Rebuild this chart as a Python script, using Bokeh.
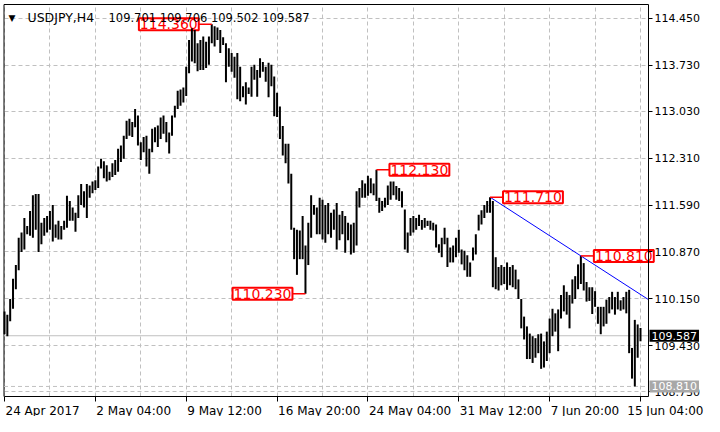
from bokeh.plotting import figure
from bokeh.models import FixedTicker, Label, PrintfTickFormatter
from bokeh.embed import file_html
from bokeh.resources import INLINE

symbol = "USDJPY,H4"

highs = [
    109.96, 109.91, 110.15, 110.46, 110.67, 111.09, 111.17, 111.39, 111.27, 111.50,
    111.74, 111.76, 111.76, 111.32, 111.39, 111.42, 111.50, 111.59, 111.29, 111.35,
    111.27, 111.35, 111.73, 111.65, 111.55, 111.47, 111.74, 111.91, 111.80, 111.91,
    111.89, 111.95, 111.97, 112.18, 112.30, 112.26, 112.20, 112.10, 112.23, 112.28,
    112.45, 112.50, 112.65, 112.88, 112.91, 112.86, 113.06, 112.96, 112.55, 112.63,
    112.65, 112.45, 112.76, 112.78, 112.81, 112.93, 112.96, 112.86, 112.70, 112.96,
    113.11, 113.34, 113.36, 113.39, 113.71, 114.12, 114.30, 114.27, 114.07, 114.12,
    114.17, 114.09, 114.17, 114.36, 114.33, 114.31, 114.27, 114.16, 114.07, 113.99,
    113.92, 113.86, 113.92, 113.71, 113.41, 113.47, 113.39, 113.71, 113.74, 113.66,
    113.84, 113.78, 113.71, 113.77, 113.74, 113.56, 113.31, 113.10, 112.80, 112.53,
    112.53, 112.07, 111.24, 111.21, 111.20, 111.42, 110.97, 111.32, 111.74, 111.59,
    111.55, 111.70, 111.67, 111.59, 111.62, 111.47, 111.52, 111.62, 111.44, 111.50,
    111.42, 111.32, 111.29, 111.32, 111.80, 111.85, 111.97, 111.92, 112.04, 112.00,
    111.92, 112.13, 111.70, 111.65, 111.70, 111.89, 111.95, 111.95, 111.88, 111.85,
    111.80, 111.52, 111.17, 111.39, 111.42, 111.39, 111.44, 111.36, 111.39, 111.35,
    111.35, 111.32, 111.29, 110.99, 111.09, 111.24, 111.09, 110.94, 110.97, 111.09,
    111.21, 110.91, 110.89, 110.82, 110.71, 110.94, 111.14, 111.44, 111.51, 111.59,
    111.65, 111.71, 111.65, 110.79, 110.64, 110.67, 110.64, 110.71, 110.64, 110.67,
    110.60, 110.45, 110.15, 109.88, 109.73, 109.62, 109.58, 109.55, 109.61, 109.62,
    109.50, 109.65, 109.85, 110.00, 109.93, 109.99, 110.21, 110.36, 110.26, 110.21,
    110.45, 110.50, 110.68, 110.81, 110.70, 110.41, 110.33, 110.33, 110.27, 110.03,
    110.03, 110.03, 110.14, 110.18, 110.26, 110.18, 110.26, 110.13, 110.18, 110.26,
    110.29, 109.40, 109.83, 109.76, 109.706,
]

lows = [
    109.61, 109.58, 109.81, 110.00, 110.30, 110.59, 110.87, 110.91, 111.14, 111.12,
    111.09, 111.21, 110.87, 110.99, 111.12, 111.17, 111.21, 111.03, 111.09, 111.06,
    111.06, 111.21, 111.24, 111.35, 111.35, 111.18, 111.39, 111.59, 111.55, 111.39,
    111.70, 111.77, 111.82, 111.85, 112.15, 112.00, 111.95, 111.97, 112.02, 112.05,
    112.10, 112.25, 112.30, 112.60, 112.65, 112.63, 112.78, 112.50, 112.28, 112.40,
    112.18, 112.07, 112.40, 112.55, 112.48, 112.60, 112.68, 112.55, 112.38, 112.65,
    112.93, 113.06, 113.11, 113.16, 113.26, 113.61, 113.79, 113.76, 113.64, 113.66,
    113.66, 113.69, 113.74, 114.07, 114.02, 114.12, 113.92, 114.04, 113.47, 113.71,
    113.63, 113.54, 113.21, 113.18, 113.24, 113.13, 113.29, 113.25, 113.51, 113.25,
    113.54, 113.63, 113.48, 113.24, 113.41, 112.95, 112.94, 112.60, 112.35, 112.23,
    111.92, 111.21, 110.76, 110.52, 110.76, 110.76, 110.23, 110.67, 111.09, 111.44,
    111.14, 111.14, 111.06, 111.01, 111.14, 111.09, 111.21, 110.91, 111.05, 111.14,
    110.86, 111.05, 110.83, 110.86, 110.97, 111.55, 111.70, 111.70, 111.73, 111.77,
    111.74, 111.65, 111.47, 111.50, 111.55, 111.59, 111.67, 111.74, 111.67, 111.65,
    111.55, 110.91, 110.86, 111.12, 111.17, 111.21, 111.27, 111.21, 111.24, 111.27,
    111.21, 111.20, 110.94, 110.86, 110.79, 110.99, 110.64, 110.71, 110.71, 110.79,
    110.86, 110.68, 110.59, 110.49, 110.49, 110.74, 110.83, 111.20, 111.29, 111.39,
    111.47, 111.47, 110.33, 110.30, 110.28, 110.36, 110.38, 110.29, 110.36, 110.33,
    110.30, 110.15, 109.70, 109.53, 109.23, 109.23, 109.17, 109.25, 109.32, 109.08,
    109.10, 109.20, 109.32, 109.58, 109.65, 109.35, 109.85, 109.96, 109.91, 109.70,
    110.08, 110.15, 110.30, 110.38, 110.28, 110.11, 110.12, 109.92, 110.03, 109.77,
    109.61, 109.73, 109.77, 109.93, 109.99, 109.91, 109.99, 109.97, 109.99, 109.93,
    109.32, 108.93, 108.81, 109.25, 109.502,
]

last_open = 109.701
last_close = 109.587

y_ticks = [108.73, 109.43, 110.15, 110.87, 111.59, 112.31, 113.03, 113.73, 114.45]
x_tick_bars = [0, 32, 64, 96, 128, 160, 192, 224]
x_tick_labels = ["24 Apr 2017", "2 May 04:00", "9 May 12:00", "16 May 20:00",
                 "24 May 04:00", "31 May 12:00", "7 Jun 20:00", "15 Jun 04:00"]
grid_bars = list(range(0, 225, 16))

# marked extremes: (bar index, "high"/"low", side of the box)
marks = [(73, "high", "left"), (106, "low", "left"), (131, "high", "right"),
         (171, "high", "right"), (203, "high", "right")]
trend_bars = [171, 203]

# ---------------- layout (canvas pixels) ----------------
CW, CH = 704, 416
FRAME_L, FRAME_R, FRAME_T, FRAME_B = 3.5, 648.0, 4.0, 396.0
PRICE_TOP, PRICE_BOT = 114.662, 108.656
BAR0_PX, BARN_PX = 4.0, 640.0

n = len(highs)
pxb = (BARN_PX - BAR0_PX) / (n - 1)
ppu = (FRAME_B - FRAME_T) / (PRICE_TOP - PRICE_BOT)
X0, X1 = -BAR0_PX / pxb, (CW - BAR0_PX) / pxb
Y0, Y1 = PRICE_BOT - (CH - FRAME_B) / ppu, PRICE_TOP + FRAME_T / ppu
XL = (FRAME_L - BAR0_PX) / pxb      # left border of chart frame
XA = (FRAME_R - BAR0_PX) / pxb      # price axis position
YT, YB = PRICE_TOP, PRICE_BOT       # top border / time axis position

FONT = "DejaVu Sans"
GRID = "#c0c0c0"

p = figure(width=CW, height=CH, x_range=(X0, X1), y_range=(Y0, Y1),
           y_axis_location="right", output_backend="svg", toolbar_location=None,
           min_border=0, min_border_left=0, min_border_right=0, min_border_top=0,
           min_border_bottom=0, background_fill_color="white", border_fill_color="white")
p.outline_line_color = None

xa = p.xaxis[0]
xa.fixed_location = YB
xa.bounds = (XL, XA)
xa.ticker = FixedTicker(ticks=x_tick_bars)
xa.major_label_overrides = {b: "" for b in x_tick_bars}
xa.major_label_text_font_size = "0px"
xa.major_tick_out = 5
xa.major_tick_in = 0
xa.minor_tick_out = 0
xa.minor_tick_in = 0
xa.axis_line_color = "black"
xa.major_tick_line_color = "black"

ya = p.yaxis[0]
ya.fixed_location = XA
ya.bounds = (YB, YT)
ya.ticker = FixedTicker(ticks=y_ticks)
ya.formatter = PrintfTickFormatter(format="%.3f")
ya.major_tick_out = 4
ya.major_tick_in = 0
ya.minor_tick_out = 0
ya.minor_tick_in = 0
ya.major_label_standoff = 2
ya.major_label_text_font = FONT
ya.major_label_text_font_size = "11px"
ya.major_label_text_color = "black"
ya.axis_line_color = "black"
ya.major_tick_line_color = "black"

p.xgrid.ticker = FixedTicker(ticks=grid_bars)
for g, cb in ((p.xgrid[0], (YB, YT)), (p.ygrid[0], (XL, XA))):
    g.grid_line_color = GRID
    g.grid_line_dash = "4 3"
    g.grid_line_width = 1
    g.cross_bounds = cb

# frame borders (left and top); right/bottom are the axes
p.line(x=[XL, XL], y=[YB, YT], line_color="black", line_width=1)
p.line(x=[XL, XA], y=[YT, YT], line_color="black", line_width=1)

# bid line and marked low line
p.line(x=[XL, XA], y=[last_close, last_close], line_color=GRID, line_width=1)
p.line(x=[XL, XA], y=[min(lows), min(lows)], line_color=GRID, line_width=1, line_dash="4 3")

idx = list(range(n))
p.segment(x0=idx, y0=lows, x1=idx, y1=highs, line_color="black", line_width=2)

# trend line through two highs, extended to the price axis
a, b = trend_bars
slope = (highs[b] - highs[a]) / (b - a)
p.line(x=[a, XA], y=[highs[a], highs[a] + slope * (XA - a)], line_color="#0000ff", line_width=1)

GAP = 13
for bar, kind, side in marks:
    price = highs[bar] if kind == "high" else lows[bar]
    sgn = -1 if side == "left" else 1
    p.segment(x0=[bar], y0=[price], x1=[bar + sgn * GAP / pxb], y1=[price],
              line_color="#ff0000", line_width=1.5)
    p.add_layout(Label(x=bar, y=price, x_offset=sgn * GAP, text=f"{price:.3f}",
                       text_align="right" if side == "left" else "left",
                       text_baseline="middle", text_color="#ff0000", text_font=FONT,
                       text_font_size="14px", background_fill_color="white",
                       border_line_color="#ff0000", border_line_width=2, padding=1,
                       level="underlay"))

# time labels, left aligned at their ticks (the last one kept inside the canvas)
for k, (b_, t) in enumerate(zip(x_tick_bars, x_tick_labels)):
    last = k == len(x_tick_bars) - 1
    p.add_layout(Label(x=X1 if last else b_, y=YB, x_offset=-1 if last else 1, y_offset=-7,
                       text=t, text_align="right" if last else "left",
                       text_baseline="top", text_color="black", text_font=FONT,
                       text_font_size="12px"))

# price boxes on the axis
p.add_layout(Label(x=XA, y=last_close, x_offset=1, text=f"{last_close:.3f}",
                   text_align="left", text_baseline="middle", text_color="white",
                   text_font=FONT, text_font_size="11px", background_fill_color="black",
                   padding=2))
p.add_layout(Label(x=XA, y=min(lows), x_offset=1, text=f"{min(lows):.3f}",
                   text_align="left", text_baseline="middle", text_color="white",
                   text_font=FONT, text_font_size="11px", background_fill_color="#a8a8a8",
                   padding=2))

# header
p.add_layout(Label(x=XL, y=YT, x_offset=4.5, y_offset=-13, text="\u25bc", text_align="left",
                   text_baseline="middle", text_color="black", text_font=FONT,
                   text_font_size="9px"))
p.add_layout(Label(x=XL, y=YT, x_offset=23.5, y_offset=-13, text=symbol, text_align="left",
                   text_baseline="middle", text_color="black", text_font=FONT,
                   text_font_size="12.5px"))
ohlc = " ".join(f"{v:.3f}" for v in [last_open, highs[-1], lows[-1], last_close])
p.add_layout(Label(x=XL, y=YT, x_offset=104.5, y_offset=-13, text=ohlc, text_align="left",
                   text_baseline="middle", text_color="black", text_font=FONT,
                   text_font_size="11.5px"))

open("out.html", "w").write(file_html(p, INLINE))
